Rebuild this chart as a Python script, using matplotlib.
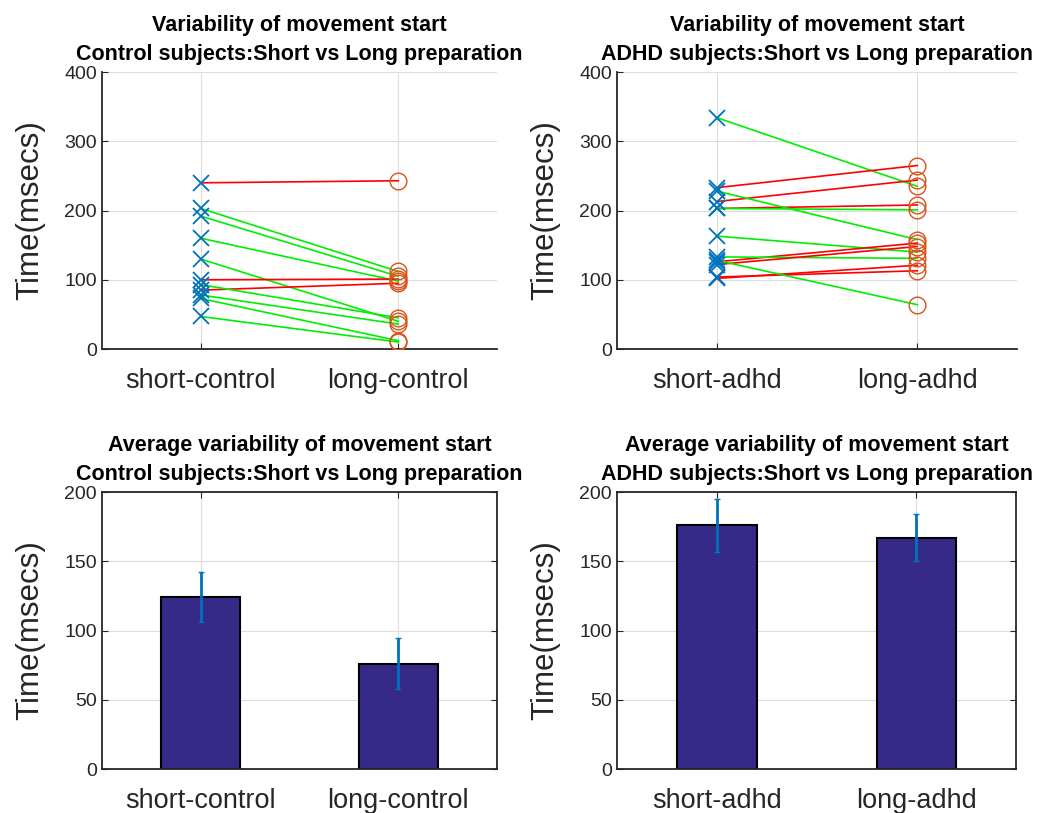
import numpy as np
import matplotlib
matplotlib.use('Agg')
import matplotlib.pyplot as plt

plt.rcParams['font.family'] = ['Liberation Sans', 'DejaVu Sans']

# paired per-subject values (msecs)
short_control = [240, 203, 192, 160, 130, 100, 85, 93, 78, 73, 47]
long_control = [243, 112, 105, 98, 40, 101, 95, 45, 36, 12, 10]
short_adhd = [334, 233, 213, 203, 203, 228, 163, 126, 133, 122, 102, 104, 128]
long_adhd = [235, 265, 244, 208, 201, 158, 140, 153, 131, 148, 121, 113, 64]

# averages and error bars
mean_control = [124, 76]
err_control = [18, 18.5]
mean_adhd = [176, 167]
err_adhd = [19, 17]

labels_control = ['short-control', 'long-control']
labels_adhd = ['short-adhd', 'long-adhd']

title_top_c = 'Variability of movement start\nControl subjects:Short vs Long preparation'
title_top_a = 'Variability of movement start\nADHD subjects:Short vs Long preparation'
title_bot_c = 'Average variability of movement start\nControl subjects:Short vs Long preparation'
title_bot_a = 'Average variability of movement start\nADHD subjects:Short vs Long preparation'

AX_COL = '#262626'
BLUE = '#0072BD'
ORANGE = '#D95319'
BAR = '#352A87'
RED = '#FF0000'
GREEN = '#00EE00'

fig = plt.figure(figsize=(10.51, 8.13), dpi=100)


def style(ax, labels, yticks, box):
    ax.set_xlim(0.5, 2.5)
    ax.set_ylim(yticks[0], yticks[-1])
    ax.set_xticks([1, 2])
    ax.set_xticklabels(labels, fontsize=19.5, color=AX_COL)
    ax.set_yticks(yticks)
    ax.tick_params(axis='y', labelsize=14, labelcolor=AX_COL)
    ax.tick_params(direction='in', length=4, color=AX_COL, width=0.8,
                   top=box, right=box)
    ax.tick_params(axis='x', pad=14)
    ax.grid(True, color='#DCDCDC', lw=0.8)
    ax.set_axisbelow(True)
    for s in ['left', 'bottom', 'top', 'right']:
        ax.spines[s].set_color(AX_COL)
        ax.spines[s].set_linewidth(1.3)
    if not box:
        ax.spines['top'].set_visible(False)
        ax.spines['right'].set_visible(False)
    ax.set_ylabel('Time(msecs)', fontsize=22.5, color=AX_COL, labelpad=14)


def paired(ax, short, long_):
    for s, l in zip(short, long_):
        c = RED if l > s else GREEN
        ax.plot([1, 2], [s, l], color=c, lw=1.2, zorder=2)
    ax.plot(np.ones(len(short)), short, 'x', color=BLUE, ms=11, mew=1.3, zorder=3)
    ax.plot(2 * np.ones(len(long_)), long_, 'o', color=ORANGE, mfc='none',
            ms=12, mew=1.0, zorder=3)


def bars(ax, means, errs):
    ax.bar([1, 2], means, width=0.4, color=BAR, edgecolor='black', lw=1.5, zorder=2)
    ax.errorbar([1, 2], means, yerr=errs, fmt='none', ecolor=BLUE, elinewidth=2,
                capsize=2, capthick=1, zorder=3)


def title(ax, txt):
    ax.set_title(txt, fontsize=15.5, fontweight='bold', color='black',
                 linespacing=1.45, pad=9)


ax1 = fig.add_axes([0.097, 0.5707, 0.376, 0.3407])
paired(ax1, short_control, long_control)
style(ax1, labels_control, [0, 100, 200, 300, 400], False)
title(ax1, title_top_c)

ax2 = fig.add_axes([0.587, 0.5707, 0.381, 0.3407])
paired(ax2, short_adhd, long_adhd)
style(ax2, labels_adhd, [0, 100, 200, 300, 400], False)
title(ax2, title_top_a)

ax3 = fig.add_axes([0.097, 0.0541, 0.376, 0.3407])
bars(ax3, mean_control, err_control)
style(ax3, labels_control, [0, 50, 100, 150, 200], True)
title(ax3, title_bot_c)

ax4 = fig.add_axes([0.587, 0.0541, 0.380, 0.3407])
bars(ax4, mean_adhd, err_adhd)
style(ax4, labels_adhd, [0, 50, 100, 150, 200], True)
title(ax4, title_bot_a)

fig.savefig('out.png', dpi=100)
